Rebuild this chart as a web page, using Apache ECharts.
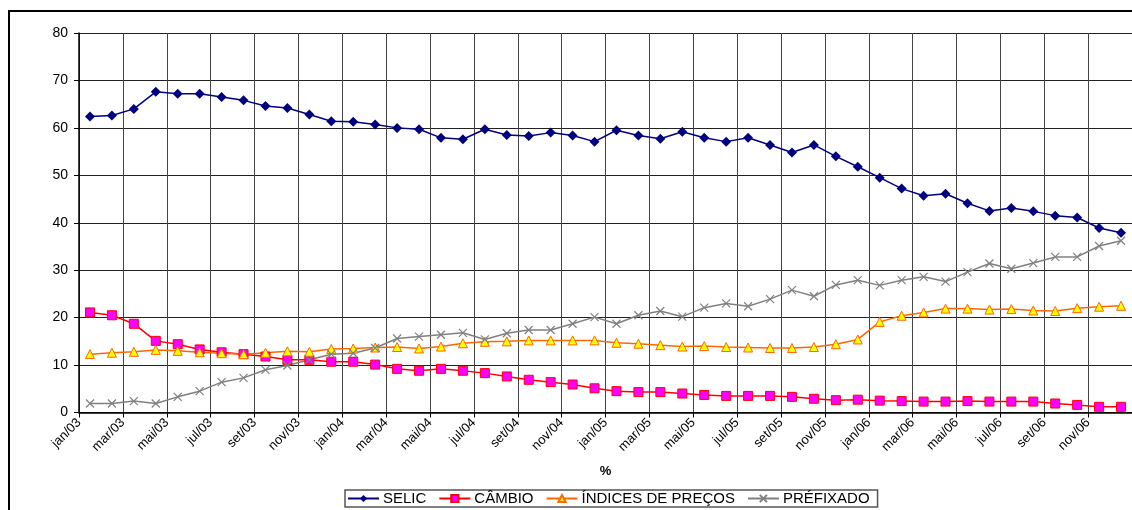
<!DOCTYPE html>
<html>
<head>
<meta charset="utf-8">
<script src="https://cdn.jsdelivr.net/npm/echarts@6/dist/echarts.min.js"></script>
<style>
  html, body { margin: 0; padding: 0; background: #fff; }
  #chart { width: 1132px; height: 510px; }
</style>
</head>
<body>
<div id="chart"></div>
<script>
// month labels, jan/03 .. dez/06
const monthNames = ['jan', 'fev', 'mar', 'abr', 'mai', 'jun', 'jul', 'ago', 'set', 'out', 'nov', 'dez'];
const years = ['03', '04', '05', '06'];
const months = years.flatMap(y => monthNames.map(m => `${m}/${y}`));

const seriesNames = ['SELIC', 'CÂMBIO', 'ÍNDICES DE PREÇOS', 'PRÉFIXADO'];

const selic = [
  62.4, 62.6, 64.0, 67.6, 67.2, 67.2, 66.5, 65.8, 64.6, 64.2, 62.8, 61.4,
  61.3, 60.7, 60.0, 59.7, 57.9, 57.6, 59.7, 58.5, 58.3, 59.0, 58.4, 57.1,
  59.5, 58.4, 57.7, 59.2, 57.9, 57.1, 57.9, 56.4, 54.8, 56.4, 54.0, 51.8,
  49.5, 47.2, 45.7, 46.1, 44.1, 42.5, 43.1, 42.4, 41.5, 41.1, 38.9, 37.9
];
const cambio = [
  21.1, 20.5, 18.7, 15.1, 14.4, 13.3, 12.7, 12.3, 11.8, 11.1, 11.1, 10.7,
  10.7, 10.1, 9.2, 8.8, 9.2, 8.8, 8.3, 7.6, 6.9, 6.4, 5.9, 5.1,
  4.5, 4.3, 4.3, 4.0, 3.7, 3.5, 3.5, 3.5, 3.3, 2.9, 2.6, 2.7,
  2.5, 2.4, 2.3, 2.3, 2.4, 2.3, 2.3, 2.3, 1.9, 1.6, 1.2, 1.2
];
const indices = [
  12.3, 12.6, 12.8, 13.2, 13.0, 12.7, 12.5, 12.3, 12.6, 12.9, 12.8, 13.4,
  13.5, 13.7, 13.8, 13.5, 13.9, 14.6, 14.9, 15.0, 15.2, 15.2, 15.2, 15.2,
  14.7, 14.5, 14.2, 13.9, 14.0, 13.8, 13.7, 13.6, 13.6, 13.8, 14.4, 15.4,
  19.1, 20.4, 21.1, 21.9, 21.9, 21.7, 21.8, 21.5, 21.4, 22.0, 22.3, 22.5
];
const prefixado = [
  1.9, 1.9, 2.4, 1.9, 3.3, 4.5, 6.4, 7.3, 9.0, 9.9, 11.1, 12.3,
  12.5, 13.6, 15.6, 16.0, 16.4, 16.8, 15.4, 16.7, 17.4, 17.4, 18.7, 20.1,
  18.7, 20.5, 21.4, 20.2, 22.1, 23.0, 22.4, 23.9, 25.8, 24.5, 26.9, 27.9,
  26.8, 27.9, 28.6, 27.6, 29.6, 31.4, 30.3, 31.5, 32.8, 32.8, 35.1, 36.2
];

const FONT = '"Liberation Sans", Arial, sans-serif';

// points sit in the middle of each month slot; ticks/labels on slot boundaries
const toPoints = vals => vals.map((v, i) => [i + 0.5, v]);

const chart = echarts.init(document.getElementById('chart'));

chart.setOption({
  animation: false,
  backgroundColor: '#fff',
  textStyle: { fontFamily: FONT },
  graphic: [{
    type: 'rect',
    shape: { x: 9, y: 11, width: 1300, height: 700 },
    style: { fill: 'none', stroke: '#000', lineWidth: 2 },
    z: 100
  }],
  grid: { left: 79, top: 33, width: 1057, height: 379.5 },
  legend: {
    data: seriesNames,
    bottom: 3,
    left: 345,
    itemWidth: 31,
    itemHeight: 9,
    itemGap: 12,
    padding: [1, 8, 1, 2],
    borderColor: '#555',
    borderWidth: 1.5,
    textStyle: { fontFamily: FONT, fontSize: 15, color: '#000', padding: [0, 0, 0, -1] }
  },
  xAxis: {
    type: 'value',
    min: 0,
    max: 48,
    interval: 2,
    name: '%',
    nameLocation: 'middle',
    nameGap: 52,
    nameTextStyle: { fontFamily: FONT, fontSize: 13, fontWeight: 'bold', color: '#000' },
    axisLine: { lineStyle: { color: '#000', width: 1.5 } },
    axisTick: { show: true, length: 5, lineStyle: { color: '#000' } },
    axisLabel: {
      rotate: 45,
      margin: 8,
      fontSize: 13,
      fontFamily: FONT,
      color: '#000',
      showMaxLabel: false,
      formatter: v => months[v] || ''
    },
    splitLine: { show: true, lineStyle: { color: '#444', width: 1 } }
  },
  yAxis: {
    type: 'value',
    min: 0,
    max: 80,
    interval: 10,
    axisLine: { show: true, lineStyle: { color: '#000', width: 1.5 } },
    axisTick: { show: true, length: 5, lineStyle: { color: '#000' } },
    axisLabel: { fontSize: 14, fontFamily: FONT, color: '#000', margin: 11 },
    splitLine: { show: true, lineStyle: { color: '#222', width: 1 } }
  },
  series: [
    {
      name: 'SELIC',
      type: 'line',
      data: toPoints(selic),
      symbol: 'diamond',
      symbolSize: 10,
      color: '#000080',
      lineStyle: { color: '#000080', width: 1.5 },
      itemStyle: { color: '#000080' }
    },
    {
      name: 'CÂMBIO',
      type: 'line',
      data: toPoints(cambio),
      symbol: 'rect',
      symbolSize: 9,
      color: '#ff0000',
      lineStyle: { color: '#ff0000', width: 1.5 },
      itemStyle: { color: '#ff00ff', borderColor: '#ff0000', borderWidth: 1 }
    },
    {
      name: 'ÍNDICES DE PREÇOS',
      type: 'line',
      data: toPoints(indices),
      symbol: 'triangle',
      symbolSize: 9,
      color: '#ff6600',
      lineStyle: { color: '#ff6600', width: 1.5 },
      itemStyle: { color: '#ffff00', borderColor: '#ff6600', borderWidth: 1 }
    },
    {
      name: 'PRÉFIXADO',
      type: 'line',
      data: toPoints(prefixado),
      symbol: 'path://M0,0 L10,10 M10,0 L0,10',
      symbolSize: 8,
      color: '#808080',
      lineStyle: { color: '#808080', width: 1.5 },
      itemStyle: { color: '#808080', borderColor: '#808080', borderWidth: 1.2 }
    }
  ]
});
</script>
</body>
</html>
